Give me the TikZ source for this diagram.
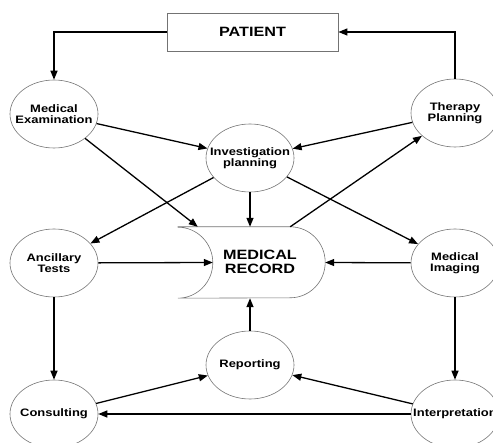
\documentclass[tikz,border=0pt]{standalone}
\usepackage{fontspec}
\setsansfont[FakeStretch=1.2]{Liberation Sans}
\usetikzlibrary{shapes.geometric}
\usetikzlibrary{arrows.meta}
\usetikzlibrary{calc}
\definecolor{rim}{gray}{0.45}

\begin{document}
\begin{tikzpicture}[
  x=1pt, y=1pt,
  font=\sffamily\bfseries\fontsize{10.8}{11}\selectfont,
  every label/.style={align=center},
  flow/.style={line width=1.3pt, -{Triangle[length=9pt,width=7pt]}}
]
\tikzset{
    proc/.style = {ellipse, draw=rim, line width=0.6pt, minimum width=88pt, minimum height=68pt, inner sep=0pt},
    title/.style = {font=\sffamily\bfseries\fontsize{13.5}{14}\selectfont, align=center},
}
\useasboundingbox (0,0) rectangle (493,-443);

\node (pat) [title, draw=rim, line width=0.8pt, minimum width=171pt, minimum height=38pt] at (252.5,-32) {PATIENT};

\node (mexam) [proc, label={center:Medical\\Examination}] at (54,-114) {};
\node (ther) [proc, label={center:Therapy\\Planning}] at (455,-113) {};
\node (inv) [proc, label={center:Investigation\\planning}] at (250,-158) {};
\node (anc) [proc, label={center:Ancillary\\Tests}] at (54,-263) {};
\node (img) [proc, label={center:Medical\\Imaging}] at (455,-263) {};
\node (rep) [proc, label={center:Reporting}] at (250,-365) {};
\node (cons) [proc, label={center:Consulting}] at (54,-414) {};
\node (interp) [proc, label={center:Interpretation}] at (455,-414) {};

% medical record
\node (rec) [minimum width=112pt, minimum height=71pt, inner sep=0pt] at (234,-262.5) {};
\draw[draw=rim, line width=0.6pt] (rec.north west) -- (rec.north east)
  arc[start angle=90, end angle=-90, x radius=35, y radius=35.5] -- (rec.south west)
  arc[start angle=-90, end angle=90, x radius=35, y radius=35.5] -- cycle;
\node (rectext) [title] at (260,-262) {MEDICAL\\RECORD};
\coordinate (recA) at ($(rec.north west)+(20,0)$);
\coordinate (recN) at ($(rec.north)+(16,0)$);
\coordinate (recS) at ($(rec.south)+(16,0)$);
\coordinate (recL) at ($(rec.west)+(35,0)$);
\coordinate (recR) at ($(rec.east)+(35,0)$);

\draw[flow] (pat.west) -| (mexam.north);
\draw[flow] (ther.north) |- (pat.east);
\draw[flow] (mexam) -- (inv);
\draw[flow] (mexam) -- (recA);
\draw[flow] (ther) -- (inv);
\draw[flow] (rec.north east) -- (ther);
\draw[flow] (inv) -- (anc);
\draw[flow] (inv) -- (recN);
\draw[flow] (inv) -- (img);
\draw[flow] (anc) -- (recL);
\draw[flow] (img) -- (recR);
\draw[flow] (anc) -- (cons);
\draw[flow] (img) -- (interp);
\draw[flow] (cons) -- (rep);
\draw[flow] (interp) -- (rep);
\draw[flow] (interp) -- (cons);
\draw[flow] (rep) -- (recS);

\end{tikzpicture}
\end{document}
